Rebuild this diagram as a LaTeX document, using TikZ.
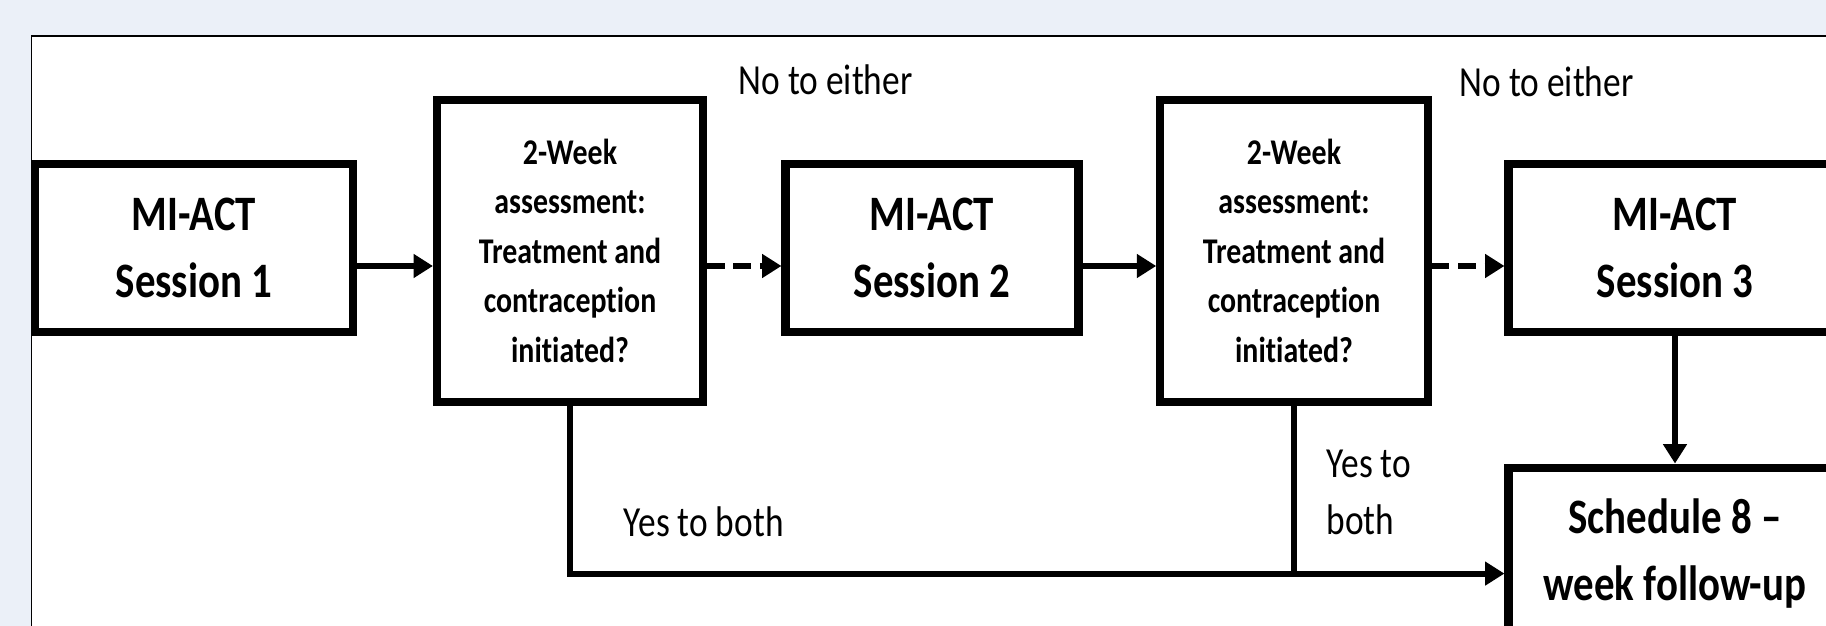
\documentclass[tikz,border=0pt]{standalone}
\usepackage{fontspec}
\setmainfont[FakeStretch=0.825, Ligatures={TeX,NoCommon}]{Carlito}
\usetikzlibrary{positioning,arrows.meta}
\definecolor{pagebg}{RGB}{235,240,248}

\begin{document}
\begin{tikzpicture}[
  box/.style={draw, line width=2.3pt, align=center, inner sep=0pt},
  bigbox/.style={box, minimum height=1.68cm, font=\fontsize{14.1}{19.2}\selectfont\bfseries},
  askbox/.style={box, minimum width=2.66cm, minimum height=3.02cm, font=\fontsize{10.3}{14.06}\selectfont\bfseries},
  flow/.style={line width=1.7pt, -{Triangle[length=5.5pt,width=6.5pt]}},
  note/.style={font=\fontsize{12.2}{16.5}\selectfont, inner sep=0pt}]
  \useasboundingbox (0,0) rectangle (18.26,6.26);
  \fill[pagebg] (0,0) rectangle (18.26,6.26);
\begin{scope}
  \clip (0,0) rectangle (18.26,6.26);
  \draw[line width=0.5pt, fill=white] (0.316,-1) rectangle (19,5.90);

  \node[bigbox, minimum width=3.185cm] (s1) at (1.94,3.78) {MI-ACT\\Session 1};
  \node[askbox] (a1) at (5.70,3.7525) {2-Week\\assessment:\\Treatment and\\contraception\\initiated?};
  \node[bigbox, minimum width=2.93cm] (s2) at (9.32,3.78) {MI-ACT\\Session 2};
  \node[askbox, minimum width=2.675cm] (a2) at (12.94,3.7525) {2-Week\\assessment:\\Treatment and\\contraception\\initiated?};
  \node[bigbox, minimum width=3.33cm] (s3) at (16.75,3.78) {MI-ACT\\Session 3};
  \node[bigbox, minimum width=3.33cm, minimum height=1.72cm, below=1.275cm of s3] (fu) {Schedule 8 –\\week follow-up};

  \draw[flow] ([yshift=-1.8mm]s1.east) -- ([yshift=-1.8mm]s1.east -| a1.west);
  \draw[flow, dash pattern=on 5pt off 2.5pt] ([yshift=-1.8mm]s2.west -| a1.east) -- ([yshift=-1.8mm]s2.west);
  \draw[flow] ([yshift=-1.8mm]s2.east) -- ([yshift=-1.8mm]s2.east -| a2.west);
  \draw[flow, dash pattern=on 5pt off 2.5pt] ([yshift=-1.8mm]s3.west -| a2.east) -- ([yshift=-1.8mm]s3.west);
  \draw[flow] (s3) -- (fu);
  \coordinate (merge) at ([yshift=-2mm]fu.west);
  \draw[flow] (a1.south) |- (merge);
  \draw[line width=1.7pt] (a2.south) -- (a2.south |- merge);

  \node[note, anchor=base west] (no1) at (7.38,5.31) {No to either};
  \node[note, anchor=base west] (no2) at (14.59,5.29) {No to either};
  \node[note, anchor=base west] (yes1) at (6.23,0.89) {Yes to both};
  \node[note, anchor=base west, align=left] (yes2) at (13.26,0.91) {Yes to\\both};
\end{scope}
\end{tikzpicture}
\end{document}
